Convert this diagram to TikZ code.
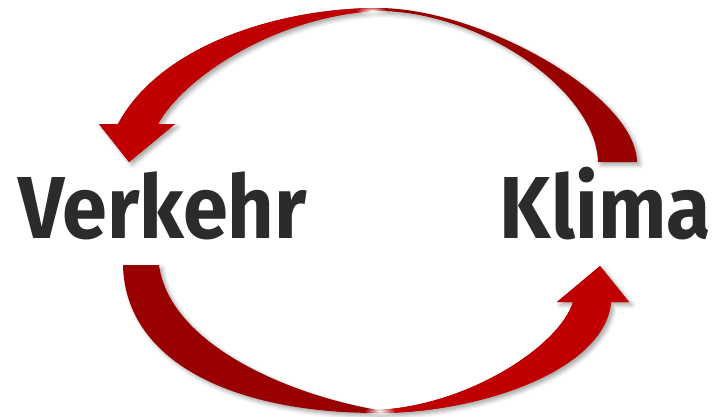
\documentclass[tikz,border=0pt]{standalone}
\usepackage{fontspec}
\setmainfont{Fira Sans}[FakeStretch=0.92]
\usetikzlibrary{shadows.blur,fadings}

\definecolor{arrowdark}{HTML}{990000}
\definecolor{arrowbright}{HTML}{C00000}
\definecolor{labelgray}{HTML}{2B2B2B}

\tikzfading[name=glint, inner color=transparent!0, outer color=transparent!100]

\tikzset{
  cyclelabel/.style={inner sep=0pt, text=labelgray, font=\fontsize{88}{90}\selectfont\bfseries},
  swoosh/.style={fill=arrowdark, blur shadow={shadow xshift=3pt, shadow yshift=-3pt, shadow blur radius=4pt, shadow opacity=35}},
}

\begin{document}
\begin{tikzpicture}[x=1pt, y=-1pt]
	\useasboundingbox (0,0) rectangle (718,416);
	
	% Beschriftung
	\node[cyclelabel, anchor=base west] (verkehr) at (18,238) {Verkehr};
	\node[cyclelabel, anchor=base east] (klima) at (711,238) {Klima};
	
	% oberer Pfeil: Klima -> Verkehr
	\fill[swoosh, save path=\upperarrow] (598,162) -- (637,162)
		.. controls (636,95) and (480,8) .. (378,8)
		.. controls (280,8) and (160,45) .. (118,124)
		-- (99,124) -- (129,162) -- (175,124) -- (158,124)
		.. controls (185,75) and (280,15) .. (378,11)
		.. controls (480,11) and (596,90) .. (598,162) -- cycle;
	\begin{scope}
		\clip[use path=\upperarrow];
		\fill[arrowbright] (0,0) rectangle (378,416);
	\end{scope}
	
	% unterer Pfeil: Verkehr -> Klima
	\fill[swoosh, save path=\lowerarrow] (159,265) -- (123,265)
		.. controls (125,360) and (230,413) .. (378,413)
		.. controls (480,413) and (605,370) .. (611,302)
		-- (629,302) -- (600,266) -- (557,302) -- (573,302)
		.. controls (560,345) and (470,405) .. (378,410)
		.. controls (290,395) and (170,345) .. (159,265) -- cycle;
	\begin{scope}
		\clip[use path=\lowerarrow];
		\fill[arrowbright] (378,0) rectangle (718,416);
	\end{scope}
	
	% Glanzlichter
	\fill[white, path fading=glint] (372,11) ellipse (16 and 5);
	\fill[white, path fading=glint] (380,411) ellipse (16 and 5);
\end{tikzpicture}
\end{document}
